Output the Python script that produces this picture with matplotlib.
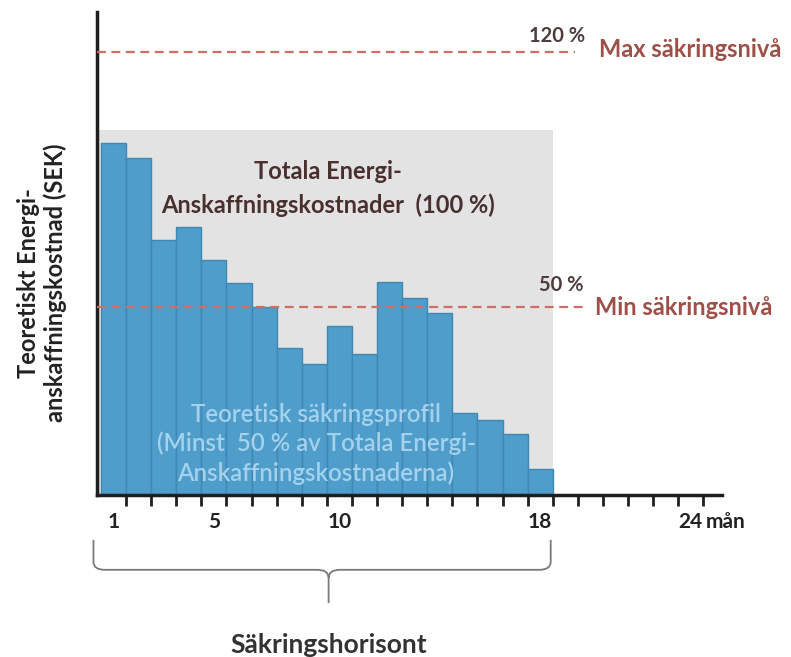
import numpy as np
import matplotlib.pyplot as plt
from matplotlib.path import Path
from matplotlib.patches import PathPatch, Rectangle

plt.rcParams['font.family'] = ['Lato', 'DejaVu Sans']

# share of total energy cost (%)
months = list(range(1, 19))
hedge = [96.4, 92.2, 69.9, 73.5, 64.4, 58.0, 51.6, 40.4, 35.8,
         46.3, 38.5, 58.3, 53.9, 49.8, 22.5, 20.5, 16.6, 7.1]
tick_labels = [1, 5, 10, 18, 24]
total_level = 100
min_level = 51.5
max_level = 121.5

fig = plt.figure(figsize=(7.91, 6.57), dpi=100)
ax = fig.add_axes([0.1226, 0.2466, 0.790, 0.735])

# grey box for total cost
ax.add_patch(Rectangle((0.34, 0), 18.5 - 0.34, total_level, facecolor='#e3e3e3',
                       edgecolor='none', zorder=0))
ax.bar(months, hedge, width=1.0, color='#4f9dca', edgecolor='#3d88b5',
       linewidth=1, zorder=2)

red = '#cf6e62'
ax.plot([0.34, 19.4], [max_level, max_level], ls=(0, (4, 2.5)), color=red, lw=1.6, zorder=3)
ax.plot([0.34, 19.7], [min_level, min_level], ls=(0, (4, 2.5)), color=red, lw=1.6, zorder=3)

ax.text(18.67, max_level + 4.2, '120 %', ha='center', va='center', fontsize=14.5,
        fontweight='bold', color='#4d3c3c')
ax.text(20.35, max_level + 0.5, 'Max säkringsnivå', ha='left', va='center', fontsize=17,
        fontweight='bold', color='#9e4f48')
ax.text(18.85, min_level + 6, '50 %', ha='center', va='center', fontsize=14.5,
        fontweight='bold', color='#4d3c3c')
ax.text(20.2, min_level, 'Min säkringsnivå', ha='left', va='center', fontsize=17,
        fontweight='bold', color='#9e4f48')

ax.text(9.55, 84, 'Totala Energi-\nAnskaffningskostnader  (100 %)', ha='center',
        va='center', fontsize=17, fontweight='bold', color='#4a2f2f', linespacing=1.5,
        zorder=4)
ax.text(9.07, 14, 'Teoretisk säkringsprofil\n(Minst  50 % av Totala Energi-\n'
        'Anskaffningskostnaderna)', ha='center', va='center', fontsize=17.3,
        fontweight='semibold', color='#a4d1eb', linespacing=1.3, zorder=4)

ax.set_xlim(0.34, 25.24)
ax.set_ylim(0, 132.3)
for s in ['top', 'right']:
    ax.spines[s].set_visible(False)
for s in ['left', 'bottom']:
    ax.spines[s].set_linewidth(2.5)
    ax.spines[s].set_color('#1e1e1e')
ax.set_xticks(np.arange(1.5, 25, 1))
ax.set_xticklabels([])
ax.set_yticks([])
ax.tick_params(axis='x', length=8, width=2, color='#1e1e1e')

for t in tick_labels:
    ax.text(t, -7.5, str(t), ha='center', va='center', fontsize=15,
            fontweight='bold', color='#222222', clip_on=False)
ax.text(24.6, -7.5, 'mån', ha='left', va='center', fontsize=15,
        fontweight='bold', color='#222222', clip_on=False)

fig.text(42 / 791, 1 - 283 / 657, 'Teoretiskt Energi-\nanskaffningskostnad (SEK)',
         rotation=90, ha='center', va='center', fontsize=17, fontweight='bold',
         color='#222222', linespacing=1.2)

# brace under the hedging horizon
xl, xr, xm = 0.2, 18.42, 9.57
yt, yh, yb = -12.3, -20.5, -29.6
r = 0.45
verts = [(xl, yt), (xl, yh + 2.2), (xl, yh), (xl + r, yh),
         (xm - r, yh), (xm, yh), (xm, yh - 2.2), (xm, yb),
         (xm, yh - 2.2), (xm, yh), (xm + r, yh),
         (xr - r, yh), (xr, yh), (xr, yh + 2.2), (xr, yt)]
codes = [Path.MOVETO, Path.LINETO, Path.CURVE3, Path.CURVE3,
         Path.LINETO, Path.CURVE3, Path.CURVE3, Path.LINETO,
         Path.MOVETO, Path.CURVE3, Path.CURVE3,
         Path.LINETO, Path.CURVE3, Path.CURVE3, Path.LINETO]
ax.add_patch(PathPatch(Path(verts, codes), facecolor='none', edgecolor='#7a7a7a',
                       lw=1.3, clip_on=False))
ax.text(xm, -41, 'Säkringshorisont', ha='center', va='center', fontsize=19,
        fontweight='bold', color='#333333', clip_on=False)

fig.savefig('out.png', dpi=100)
